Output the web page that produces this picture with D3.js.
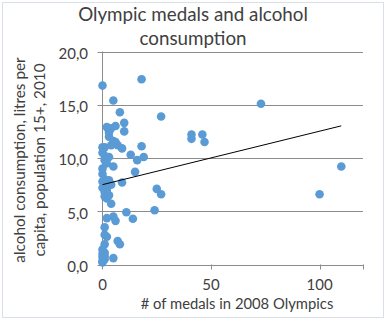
<!DOCTYPE html>
<head>
<meta charset="utf-8">
<title>Olympic medals and alcohol consumption</title>
<style>
body {
  margin: 0;
  padding: 0;
  background: #fff;
  font-family: Lato, "Open Sans", sans-serif;
}
.grid line { stroke: #8c8c8c; stroke-width: 1; }
.axis text { fill: #404040; font-size: 15px; }
.dot { fill: #5b9bd5; }
</style>
</head>
<body>
<svg id="viz" width="387" height="321"></svg>
<script src="https://d3js.org/d3.v7.min.js"></script>
<script>
// medals won in Beijing 2008 per country
var medals = [0, 18, 5, 8, 27, 10, 2, 4, 6, 10, 3, 3, 5, 1, 4, 7, 9, 6, 18, 13,
  16, 19, 1, 3, 2, 5, 15, 0, 0, 1, 9, 1, 2, 1, 3, 2, 25, 27, 4, 24,
  11, 14, 2, 5, 6, 1, 1, 2, 7, 8, 1, 0, 1, 0, 1, 5, 41, 41, 46, 47,
  73, 100, 110, 0, 0, 1, 0, 2, 0, 1, 4, 3, 0, 0, 1, 0]
// litres of pure alcohol per capita (15+), 2010
var alcohol = [16.8, 17.4, 15.4, 14.3, 13.9, 13.3, 12.9, 12.8, 13.0, 12.5, 12.4, 12.0, 11.6, 11.0, 11.2, 11.2, 10.9, 11.5, 11.1, 10.3,
  9.8, 10.1, 10.2, 10.1, 9.5, 9.2, 8.7, 9.0, 8.5, 8.0, 7.7, 7.4, 7.0, 6.8, 6.5, 6.2, 7.1, 6.6, 5.7, 5.1,
  4.9, 4.3, 4.35, 4.5, 4.1, 3.5, 2.8, 2.6, 2.2, 1.9, 1.9, 1.4, 1.1, 0.7, 0.5, 0.6, 12.2, 11.8, 12.2, 11.5,
  15.1, 6.6, 9.2, 11.0, 10.5, 9.8, 7.8, 7.6, 7.2, 6.4, 7.5, 7.9, 0.3, 1.0, 0.8, 0.2]
var yTicks = [0, 5, 10, 15, 20]
var xTicks = [0, 50, 100]

var svg = d3.select('#viz')

// chart area frame
svg.append('rect')
  .attr('x', 2.5).attr('y', 2.5)
  .attr('width', 381).attr('height', 315)
  .attr('fill', '#fff')
  .attr('stroke', '#d9e0e8')

var x = d3.scaleLinear().domain([0, 120]).range([102.5, 363])
var y = d3.scaleLinear().domain([0, 20]).range([264.5, 51.5])

// horizontal gridlines
svg.append('g').attr('class', 'grid')
  .selectAll('line').data(yTicks).enter().append('line')
  .attr('x1', x(0) - 5).attr('x2', x(120))
  .attr('y1', function(d) { return Math.round(y(d)) + 0.5 })
  .attr('y2', function(d) { return Math.round(y(d)) + 0.5 })

// y axis line
svg.append('line')
  .attr('x1', x(0)).attr('x2', x(0))
  .attr('y1', y(20)).attr('y2', y(0) + 5)
  .attr('stroke', '#8c8c8c')

// x ticks
svg.append('g').attr('class', 'grid')
  .selectAll('line').data(xTicks.slice(1).concat([120])).enter().append('line')
  .attr('x1', function(d) { return Math.round(x(d)) + 0.5 })
  .attr('x2', function(d) { return Math.round(x(d)) + 0.5 })
  .attr('y1', y(0)).attr('y2', y(0) + 5)

var fmt = function(d) { return d3.format('.1f')(d).replace('.', ',') }

svg.append('g').attr('class', 'axis')
  .selectAll('text').data(yTicks).enter().append('text')
  .attr('x', 88)
  .attr('y', function(d) { return y(d) + 2 })
  .attr('dy', '0.35em')
  .attr('text-anchor', 'end')
  .text(fmt)

svg.append('g').attr('class', 'axis')
  .selectAll('text').data(xTicks).enter().append('text')
  .attr('x', function(d) { return x(d) })
  .attr('y', 290)
  .attr('text-anchor', 'middle')
  .text(function(d) { return d })

// titles
var title = svg.append('text')
  .attr('text-anchor', 'middle')
  .attr('fill', '#404040')
  .style('font-size', '18.8px')
title.append('tspan').attr('x', 193).attr('y', 21).text('Olympic medals and alcohol')
title.append('tspan').attr('x', 193).attr('y', 45).text('consumption')

svg.append('text')
  .attr('x', 237).attr('y', 309)
  .attr('text-anchor', 'middle')
  .attr('fill', '#404040')
  .style('font-size', '14.8px')
  .text('# of medals in 2008 Olympics')

var ytitle = svg.append('text')
  .attr('transform', 'translate(0,160) rotate(-90)')
  .attr('text-anchor', 'middle')
  .attr('fill', '#404040')
  .style('font-size', '15.3px')
ytitle.append('tspan').attr('x', 0).attr('y', 25).text('alcohol consumption, litres per')
ytitle.append('tspan').attr('x', 0).attr('y', 45).text('capita, population 15+, 2010')

// points
var pts = medals.map(function(m, i) { return [m, alcohol[i]] })
svg.append('g')
  .selectAll('circle').data(pts).enter().append('circle')
  .attr('class', 'dot')
  .attr('r', 4.3)
  .attr('cx', function(d) { return x(d[0]) })
  .attr('cy', function(d) { return y(d[1]) })

// least-squares trendline over the data range
var mx = d3.mean(medals), my = d3.mean(alcohol)
var sxy = d3.sum(pts, function(d) { return (d[0] - mx) * (d[1] - my) })
var sxx = d3.sum(pts, function(d) { return (d[0] - mx) * (d[0] - mx) })
var slope = sxy / sxx, icpt = my - slope * mx
var ext = d3.extent(medals)
svg.append('line')
  .attr('x1', x(ext[0])).attr('y1', y(icpt + slope * ext[0]))
  .attr('x2', x(ext[1])).attr('y2', y(icpt + slope * ext[1]))
  .attr('stroke', '#000')
  .attr('stroke-width', 1)
</script>
</body>
</html>
